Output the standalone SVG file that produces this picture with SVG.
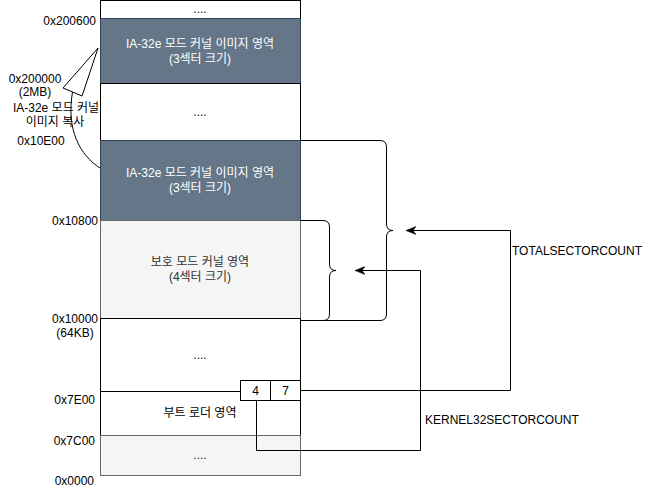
<svg xmlns="http://www.w3.org/2000/svg" width="651" height="491" viewBox="0 0 651 491">
  <defs>
    <style>
      text { font-family: "Liberation Sans", Arial, "Noto Sans CJK KR", sans-serif; font-size: 12px; }
      .c { text-anchor: middle; }
      .e { text-anchor: end; }
      .w { fill: #ffffff; }
      .g { fill: #333333; }
      .plain { fill: #ffffff; stroke: #000000; stroke-width: 1; }
      .dark { fill: #647687; stroke: #314354; stroke-width: 1; }
      .light { fill: #f5f5f5; stroke: #666666; stroke-width: 1; }
      .conn { fill: none; stroke: #000000; stroke-width: 1; }
    </style>
    <marker id="arrow" viewBox="0 0 10 10" refX="10" refY="5" markerWidth="10" markerHeight="10" markerUnits="userSpaceOnUse" orient="auto">
      <path d="M0,1 L10,5 L0,9 L3,5 Z" fill="#000000" stroke="#000000" stroke-width="0.5"/>
    </marker>
  </defs>
  <rect width="651" height="491" fill="#ffffff"/>

  <g id="block-top">
    <rect class="plain" x="100.5" y="0.5" width="200" height="18"/>
    <text class="c" x="200" y="13">....</text>
  </g>
  <g id="block-ia32e-2mb">
    <rect class="dark" x="100.5" y="18.5" width="200" height="65"/>
    <text class="c w" x="200" y="48">IA-32e 모드 커널 이미지 영역</text>
    <text class="c w" x="200" y="63">(3섹터 크기)</text>
  </g>
  <g id="block-mid">
    <rect class="plain" x="100.5" y="83.5" width="200" height="57"/>
    <text class="c" x="200" y="115.5">....</text>
  </g>
  <g id="block-ia32e">
    <rect class="dark" x="100.5" y="140.5" width="200" height="80"/>
    <text class="c w" x="200" y="177">IA-32e 모드 커널 이미지 영역</text>
    <text class="c w" x="200" y="192">(3섹터 크기)</text>
  </g>
  <g id="block-protected">
    <rect class="light" x="100.5" y="220.5" width="200" height="98"/>
    <text class="c g" x="200" y="266">보호 모드 커널 영역</text>
    <text class="c g" x="200" y="281">(4섹터 크기)</text>
  </g>
  <g id="block-low">
    <rect class="plain" x="100.5" y="318.5" width="200" height="73"/>
    <text class="c" x="200" y="358.5">....</text>
  </g>
  <g id="block-boot">
    <rect class="plain" x="100.5" y="391.5" width="200" height="44"/>
    <text class="c" x="200" y="417">부트 로더 영역</text>
  </g>
  <g id="block-bottom">
    <rect class="light" x="100.5" y="435.5" width="200" height="40"/>
    <text class="c g" x="200" y="459">....</text>
  </g>
  <g id="cell-4">
    <rect class="plain" x="240.5" y="380.5" width="30" height="20"/>
    <text class="c" x="255.5" y="395">4</text>
  </g>
  <g id="cell-7">
    <rect class="plain" x="270.5" y="380.5" width="30" height="20"/>
    <text class="c" x="285.5" y="395">7</text>
  </g>

  <g id="labels">
    <text class="e" x="96" y="25">0x200600</text>
    <text class="c" x="35" y="83">0x200000</text>
    <text class="c" x="35" y="96">(2MB)</text>
    <text class="c" x="56" y="112">IA-32e 모드 커널</text>
    <text class="c" x="55" y="126">이미지 복사</text>
    <text class="c" x="41" y="145">0x10E00</text>
    <text class="e" x="98" y="225">0x10800</text>
    <text class="e" x="98" y="323">0x10000</text>
    <text class="c" x="75" y="337">(64KB)</text>
    <text class="e" x="95" y="404">0x7E00</text>
    <text class="e" x="95" y="445">0x7C00</text>
    <text class="e" x="94" y="485">0x0000</text>
    <text x="512" y="255">TOTALSECTORCOUNT</text>
    <text x="425" y="424">KERNEL32SECTORCOUNT</text>
  </g>

  <g id="connectors">
    <path class="conn" d="M100,168 C80,155 66,130 72.5,92"/>
    <polygon points="98,48 63,88 82,96" fill="#ffffff" stroke="#000000" stroke-width="1" stroke-linejoin="miter"/>
    <path class="conn" d="M300,140.5 H380 Q386.5,140.5 386.5,147 V224 Q386.5,230.5 393,230.5 Q386.5,230.5 386.5,237 V314 Q386.5,320.5 380,320.5 H300"/>
    <path class="conn" d="M300,220.5 H323 Q329.5,220.5 329.5,227 V264 Q329.5,270.5 336,270.5 Q329.5,270.5 329.5,277 V314 Q329.5,320.5 323,320.5 H300"/>
    <path class="conn" d="M300.5,390.5 H510.5 V230.5 H406" marker-end="url(#arrow)"/>
    <path class="conn" d="M256.5,400.5 V450.5 H420.5 V270.5 H355" marker-end="url(#arrow)"/>
  </g>
</svg>
